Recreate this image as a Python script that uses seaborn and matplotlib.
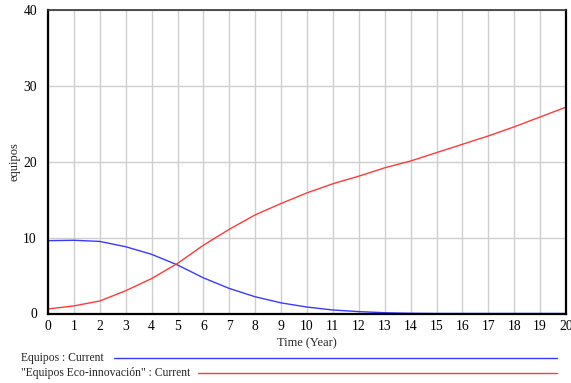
import matplotlib
matplotlib.use("Agg")
import matplotlib.pyplot as plt
import seaborn as sns
import pandas as pd
from matplotlib.lines import Line2D

years = list(range(0, 21))
equipos = [9.6, 9.65, 9.5, 8.8, 7.8, 6.4, 4.7, 3.3, 2.2, 1.4, 0.85, 0.46, 0.25, 0.1, 0.03, 0.0, 0.0, 0.0, 0.0, 0.0, 0.0]
eco_innovacion = [0.6, 1.0, 1.65, 3.0, 4.6, 6.6, 9.0, 11.1, 13.0, 14.5, 15.9, 17.1, 18.1, 19.2, 20.1, 21.2, 22.3, 23.4, 24.6, 25.9, 27.2]
series_names = ["Equipos : Current", "\"Equipos Eco-innovación\" : Current"]
series_colors = ["#3a3aff", "#ff3a3a"]

df = pd.DataFrame({
    "Time": years * 2,
    "value": equipos + eco_innovacion,
    "series": [series_names[0]] * len(years) + [series_names[1]] * len(years),
})

sns.set_style("white")
plt.rcParams["font.family"] = ["Liberation Serif", "DejaVu Serif"]

fig = plt.figure(figsize=(5.71, 3.83), dpi=100)
ax = fig.add_axes([48 / 571, 1 - 313.5 / 383, (566 - 48) / 571, (313.5 - 10) / 383])

sns.lineplot(data=df, x="Time", y="value", hue="series", palette=series_colors,
             ax=ax, legend=False, linewidth=1.0)

ax.set_xlim(0, 20)
ax.set_ylim(0, 40)
ax.set_xticks(years)
ax.set_yticks([0, 10, 20, 30, 40])
ax.grid(True, color="#cfcfcf", linewidth=1.0)
ax.set_axisbelow(True)
ax.tick_params(axis="both", length=0, labelsize=9.8, colors="black")
ax.tick_params(axis="x", pad=5)
ax.tick_params(axis="y", pad=8)
for s in ax.spines.values():
    s.set_visible(True)
    s.set_color("black")
    s.set_linewidth(1.6)
ax.spines["top"].set_color("#333333")
ax.spines["top"].set_linewidth(1.2)

ax.set_xlabel("Time (Year)", fontsize=9, labelpad=3)
ax.set_ylabel("equipos", fontsize=9, labelpad=2)

# legend below
fig.text(21 / 571, 1 - 358 / 383, series_names[0], fontsize=8.4, va="center", ha="left")
fig.text(21 / 571, 1 - 373 / 383, series_names[1], fontsize=8.4, va="center", ha="left")
fig.add_artist(Line2D([114 / 571, 557 / 571], [1 - 358 / 383, 1 - 358 / 383],
                      color=series_colors[0], linewidth=1.0))
fig.add_artist(Line2D([198 / 571, 557 / 571], [1 - 373 / 383, 1 - 373 / 383],
                      color=series_colors[1], linewidth=1.0))

fig.savefig("out.png", dpi=100)
